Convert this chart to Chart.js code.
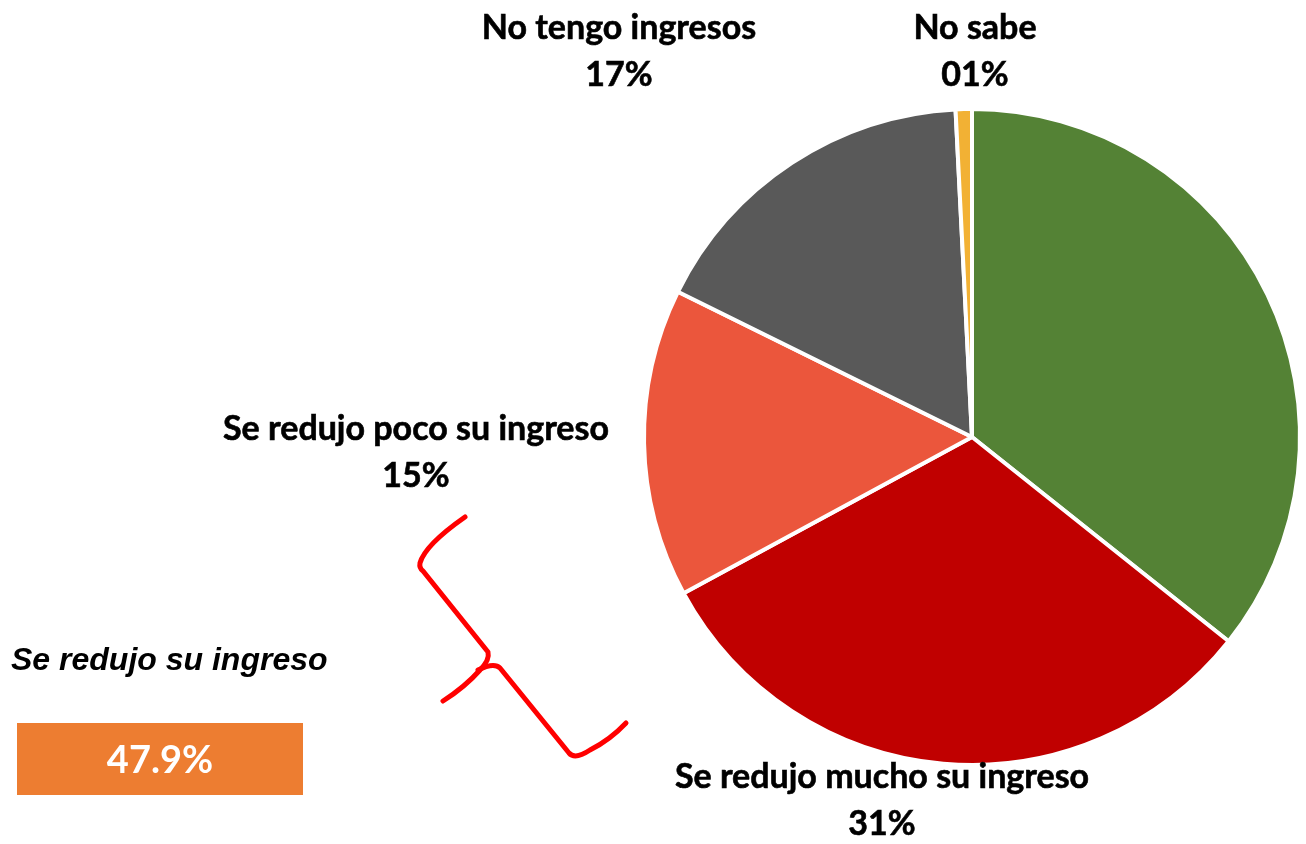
<!DOCTYPE html>
<html><head><meta charset="utf-8">
<script src="https://cdn.jsdelivr.net/npm/chart.js@4"></script>
<style>html,body{margin:0;padding:0;background:#fff;}#wrap{width:1306px;height:844px;position:relative;}</style>
</head><body><div id="wrap"><canvas id="c" width="1306" height="844"></canvas></div>
<script>
const categories = ["", "Se redujo mucho su ingreso", "Se redujo poco su ingreso", "No tengo ingresos", "No sabe"];
const values = [35.7, 31.4, 15.2, 16.9, 0.8];
const valueLabels = ["", "31%", "15%", "17%", "01%"];
const colors = ["#548235", "#C00000", "#EB563C", "#595959", "#F2B134"];
const summaryTitle = "Se redujo su ingreso";
const summaryValue = "47.9%";

// label placement: offset of label centre x / first-line baseline from pie centre
const labelPos = [null, [-90, 351], [-556, 3], [-353, -398], [3, -398]];

const FONT = "Lato, 'Open Sans', sans-serif";

const labelPlugin = {
  id: 'outerLabels',
  afterDraw(chart) {
    const ctx = chart.ctx;
    const meta = chart.getDatasetMeta(0);
    const arc0 = meta.data[0];
    const cx = arc0.x, cy = arc0.y;
    ctx.save();
    ctx.fillStyle = '#000';
    ctx.textAlign = 'center';
    ctx.textBaseline = 'alphabetic';
    ctx.font = "bold 34px " + FONT;
    ctx.strokeStyle = '#000';
    ctx.lineWidth = 0.6;
    for (let i = 0; i < categories.length; i++) {
      if (!labelPos[i]) continue;
      const x = cx + labelPos[i][0], y = cy + labelPos[i][1];
      ctx.fillText(categories[i], x, y);
      ctx.strokeText(categories[i], x, y);
      ctx.fillText(valueLabels[i], x, y + 47);
      ctx.strokeText(valueLabels[i], x, y + 47);
    }
    // summary annotation
    ctx.textAlign = 'left';
    ctx.font = "italic bold 32px 'Liberation Sans', Arial, sans-serif";
    ctx.fillText(summaryTitle, 11, 670);
    ctx.fillStyle = '#ED7D31';
    ctx.fillRect(17, 723, 286, 72);
    ctx.fillStyle = '#fff';
    ctx.textAlign = 'center';
    ctx.font = "bold 38px " + FONT;
    ctx.fillText(summaryValue, 160, 773);
    // hand-drawn brace
    ctx.strokeStyle = '#FF0000';
    ctx.lineWidth = 5;
    ctx.lineCap = 'round';
    ctx.lineJoin = 'round';
    ctx.beginPath();
    ctx.moveTo(465, 517);
    ctx.quadraticCurveTo(425, 545, 420, 563);
    ctx.quadraticCurveTo(419, 568, 423, 571);
    ctx.lineTo(488, 652);
    ctx.quadraticCurveTo(490, 660, 480, 670);
    ctx.quadraticCurveTo(465, 687, 443, 701);
    ctx.stroke();
    ctx.beginPath();
    ctx.moveTo(478, 670);
    ctx.quadraticCurveTo(494, 662, 500, 668);
    ctx.lineTo(569, 753);
    ctx.quadraticCurveTo(575, 760, 590, 750);
    ctx.quadraticCurveTo(610, 740, 626, 723);
    ctx.stroke();
    ctx.restore();
  }
};

new Chart(document.getElementById('c'), {
  type: 'pie',
  data: {
    labels: categories,
    datasets: [{
      data: values,
      backgroundColor: colors,
      borderColor: '#ffffff',
      borderWidth: 4
    }]
  },
  options: {
    responsive: false,
    animation: false,
    layout: { padding: { left: 642, right: 4, top: 107, bottom: 77 } },
    plugins: { legend: { display: false }, tooltip: { enabled: false } }
  },
  plugins: [labelPlugin]
});
</script></body></html>
